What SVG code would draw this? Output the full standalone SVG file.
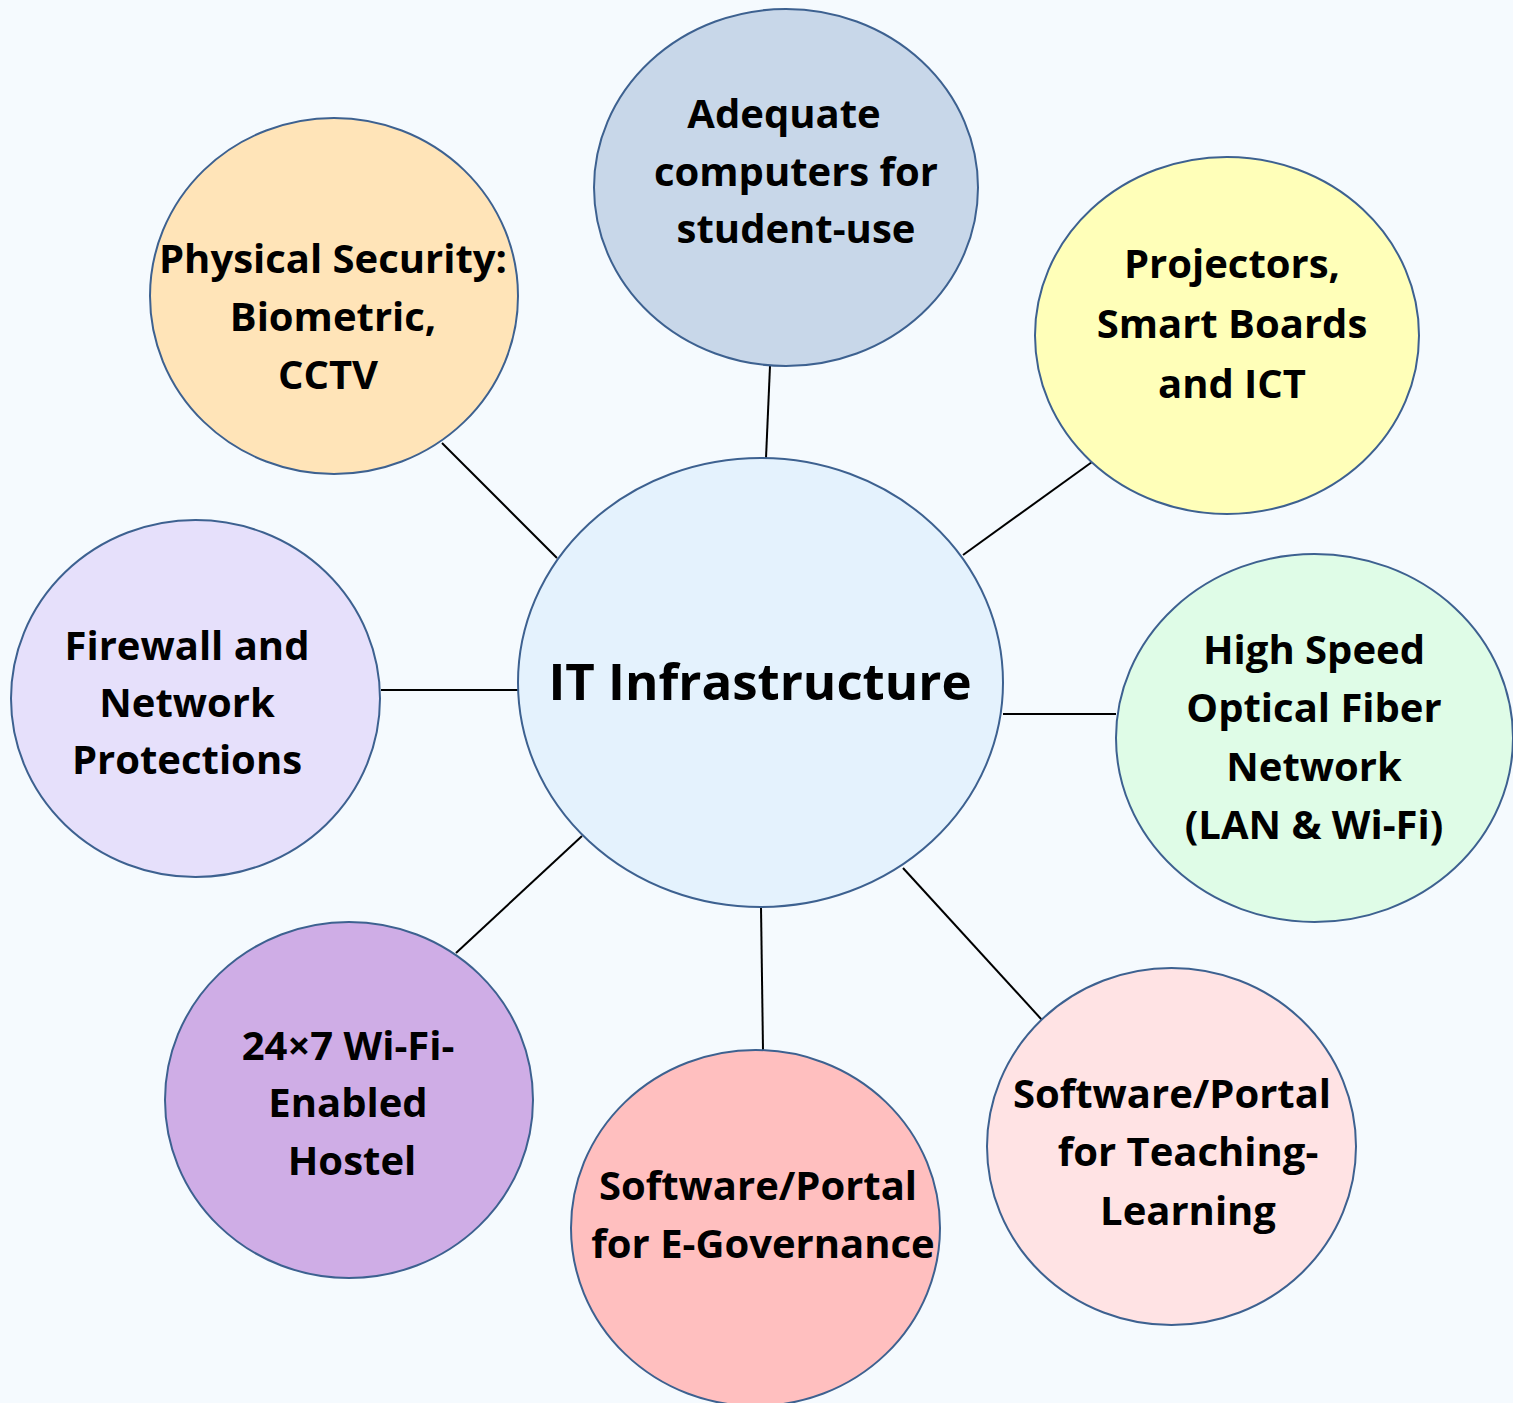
<svg xmlns="http://www.w3.org/2000/svg" width="1513" height="1403" viewBox="0 0 1513 1403">
<style>
.node ellipse{stroke:#3d6190;stroke-width:2}
.conn line{stroke:#000;stroke-width:2}
text{font-family:"Open Sans","Noto Sans","Liberation Sans",sans-serif;font-weight:700;font-size:40px;fill:#000;text-anchor:middle}
.big{font-size:51px}
</style>
<rect width="1513" height="1403" fill="#f5fafe"/>
<g id="connectors" class="conn">
<line x1="770" y1="366" x2="766" y2="458"/>
<line x1="442" y1="443" x2="557" y2="558"/>
<line x1="1092" y1="462" x2="963" y2="555"/>
<line x1="381" y1="690" x2="518" y2="690"/>
<line x1="1003" y1="714" x2="1116" y2="714"/>
<line x1="903" y1="868" x2="1042" y2="1020"/>
<line x1="761" y1="907" x2="763" y2="1050"/>
<line x1="582" y1="836" x2="456" y2="953"/>
</g>
<g id="center" class="node">
<ellipse cx="760.5" cy="682.5" rx="242.5" ry="224.5" fill="#e4f2fd"/>
<text class="big" x="760" y="700">IT Infrastructure</text>
</g>
<g id="computers" class="node">
<ellipse cx="786" cy="187.5" rx="192" ry="178.5" fill="#c8d7e9"/>
<text x="784" y="128">Adequate</text>
<text x="796" y="186">computers for</text>
<text x="796" y="243">student-use</text>
</g>
<g id="security" class="node">
<ellipse cx="334" cy="296" rx="184" ry="178" fill="#ffe4b8"/>
<text x="333" y="273">Physical Security:</text>
<text x="333" y="331">Biometric,</text>
<text x="328" y="389">CCTV</text>
</g>
<g id="projectors" class="node">
<ellipse cx="1227" cy="335.5" rx="192" ry="178.5" fill="#ffffb9"/>
<text x="1232" y="278">Projectors,</text>
<text x="1232" y="338">Smart Boards</text>
<text x="1232" y="398">and ICT</text>
</g>
<g id="firewall" class="node">
<ellipse cx="195.5" cy="698.5" rx="184.5" ry="178.5" fill="#e6e0fb"/>
<text x="187" y="660">Firewall and</text>
<text x="187" y="717">Network</text>
<text x="187" y="774">Protections</text>
</g>
<g id="network" class="node">
<ellipse cx="1314.5" cy="738" rx="198.5" ry="184" fill="#dffce7"/>
<text x="1314" y="664">High Speed</text>
<text x="1314" y="722">Optical Fiber</text>
<text x="1314" y="781">Network</text>
<text x="1314" y="839">(LAN &amp; Wi-Fi)</text>
</g>
<g id="hostel" class="node">
<ellipse cx="349" cy="1100" rx="184" ry="178" fill="#cfade6"/>
<text x="348" y="1060">24×7 Wi-Fi-</text>
<text x="348" y="1117">Enabled</text>
<text x="352" y="1175">Hostel</text>
</g>
<g id="egovernance" class="node">
<ellipse cx="755.5" cy="1228" rx="184.5" ry="178" fill="#ffbfbf"/>
<text x="758" y="1200">Software/Portal</text>
<text x="763" y="1258">for E-Governance</text>
</g>
<g id="teaching" class="node">
<ellipse cx="1171.5" cy="1146.5" rx="184.5" ry="178.5" fill="#ffe3e4"/>
<text x="1172" y="1108">Software/Portal</text>
<text x="1188" y="1166">for Teaching-</text>
<text x="1188" y="1225">Learning</text>
</g>
</svg>
